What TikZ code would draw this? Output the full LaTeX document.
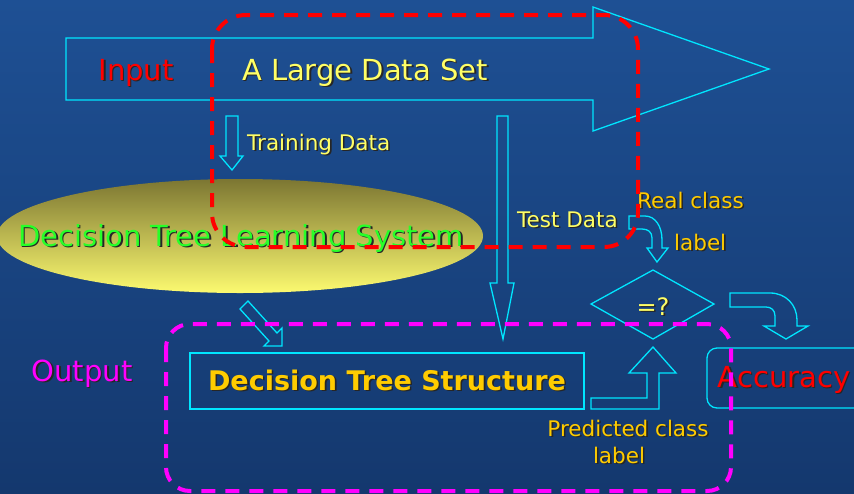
\documentclass[tikz,border=0pt]{standalone}
\usepackage{fontspec}
\setmainfont{DejaVu Sans}
\definecolor{bgblue}{RGB}{30,80,148}
\definecolor{bgdark}{RGB}{20,56,110}
\definecolor{linecyan}{RGB}{0,230,255}
\definecolor{textyellow}{RGB}{255,255,102}
\definecolor{labelorange}{RGB}{255,204,0}
\definecolor{systemgreen}{RGB}{40,255,40}
\definecolor{ellipsetop}{RGB}{124,118,50}
\definecolor{ellipsebottom}{RGB}{252,250,112}
\definecolor{framemagenta}{RGB}{255,0,255}
\newcommand\shadowed[1]{\leavevmode\rlap{\kern1.6pt\raisebox{-1.6pt}{\color{black!85}#1}}#1}

\begin{document}
\begin{tikzpicture}[x=1pt,y=-1pt,
	blockarrow/.style={draw=linecyan,line width=1.3pt},
	frameline/.style={line width=4pt,dash pattern=on 14pt off 10pt},
	bigtext/.style={inner sep=0pt,font=\fontsize{29}{30}\selectfont},
	smalltext/.style={inner sep=0pt,font=\fontsize{21.5}{24}\selectfont}]
	\useasboundingbox (0,0) rectangle (854,493);
	\shade[top color=bgblue,middle color=bgblue,bottom color=bgdark] (0,0) rectangle (854,493);
	% input arrow with the data set
	\draw[blockarrow] (66,38) -- (593,38) -- (593,7) -- (769,69) -- (593,131) -- (593,100) -- (66,100) -- cycle;
	\node[bigtext,text=red,anchor=base] (input) at (136,80) {\shadowed{Input}};
	\node[bigtext,text=textyellow,anchor=base] (dataset) at (365,80) {\shadowed{A Large Data Set}};
	% training data
	\draw[blockarrow] (226,116) -- (238,116) -- (238,156) -- (243,156) -- (232,170) -- (220,156) -- (226,156) -- cycle;
	\node[smalltext,text=textyellow,anchor=base west] (training) at (247,150) {\shadowed{Training Data}};
	% learning system
	\shade[top color=ellipsetop,bottom color=ellipsebottom] (240,236) ellipse (243 and 57);
	\node[bigtext,text=systemgreen,anchor=base] (system) at (241,246) {\shadowed{Decision Tree Learning System}};
	% test data
	\draw[blockarrow] (497,116) -- (508,116) -- (508,283) -- (514,283) -- (503,339) -- (490,283) -- (497,283) -- cycle;
	\node[smalltext,text=textyellow,anchor=base west] (testdata) at (517,227) {\shadowed{Test Data}};
	% real class label
	\draw[blockarrow] (629,216) -- (645,216) .. controls (655,216) and (662,226) .. (662,240) -- (662,248) -- (668,248) -- (657,262) -- (647,248) -- (652,248) -- (652,238) .. controls (652,232) and (648,229) .. (642,229) -- (629,229) -- cycle;
	\node[smalltext,text=labelorange,anchor=base west] (realclass) at (637,208) {\shadowed{Real class}};
	\node[smalltext,text=labelorange,anchor=base west] (reallabel) at (674,250) {\shadowed{label}};
	% compare
	\draw[blockarrow] (591,304) -- (653,270) -- (714,304) -- (653,339) -- cycle;
	\node[inner sep=0pt,font=\fontsize{24}{26}\selectfont,text=textyellow,anchor=base] (compare) at (653,315) {\shadowed{=?}};
	\draw[blockarrow] (730,293) -- (770,293) .. controls (786,293) and (797,305) .. (797,320) -- (797,326) -- (808,326) -- (786,339) -- (764,326) -- (775,326) -- (775,316) .. controls (775,310) and (771,307) .. (766,307) -- (730,307) -- cycle;
	\draw[blockarrow,rounded corners=10pt] (880,348) -- (707,348) -- (707,408) -- (880,408);
	\node[bigtext,text=red,anchor=base] (accuracy) at (784,387) {\shadowed{Accuracy}};
	% output
	\draw[blockarrow] (240,309) -- (248,301) -- (277,333) -- (282,328) -- (282,346) -- (264,346) -- (269,341) -- cycle;
	\node[draw=linecyan,line width=1.3pt,minimum width=394pt,minimum height=56pt,inner sep=0pt,
		text=labelorange,font=\fontsize{27}{28}\selectfont\bfseries] (structure) at (387,381) {\shadowed{Decision Tree Structure}};
	\node[bigtext,text=framemagenta,anchor=base] (output) at (82,381) {\shadowed{Output}};
	\draw[blockarrow] (591,409) -- (659,409) -- (659,373) -- (676,373) -- (653,347) -- (629,373) -- (647,373) -- (647,398) -- (591,398) -- cycle;
	\node[smalltext,text=labelorange,anchor=base] (predclass) at (628,436) {\shadowed{Predicted class}};
	\node[smalltext,text=labelorange,anchor=base] (predlabel) at (619,463) {\shadowed{label}};
	% frames
	\draw[frameline,red,rounded corners=34pt] (212,15) rectangle (638,247);
	\draw[frameline,framemagenta,rounded corners=24pt] (166,324) rectangle (731,491);
\end{tikzpicture}
\end{document}
